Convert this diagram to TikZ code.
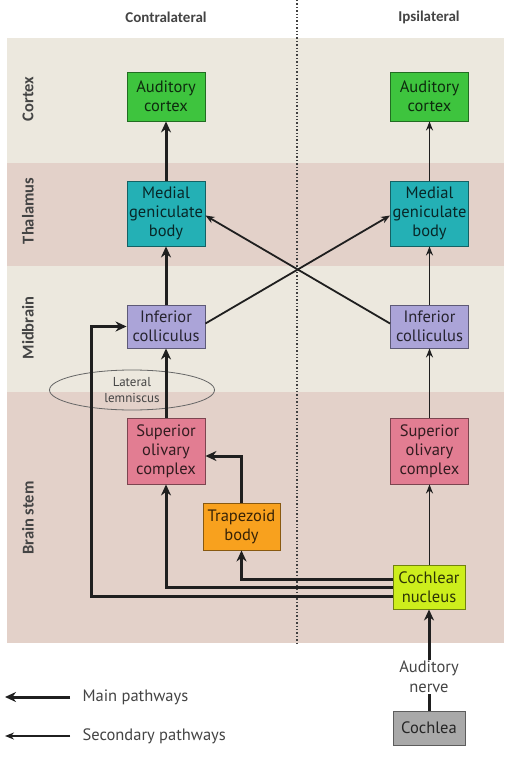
\documentclass[tikz,border=0pt]{standalone}
\usepackage{fontspec}
\setmainfont{PT Sans}
\newfontfamily\hdrfont{Carlito}
\usetikzlibrary{arrows.meta,shapes.geometric}
\definecolor{bandA}{HTML}{ECE8DE}
\definecolor{bandB}{HTML}{E3D1C9}
\definecolor{cgreen}{HTML}{3EC43E}
\definecolor{cteal}{HTML}{24B0B5}
\definecolor{clav}{HTML}{ABA4D8}
\definecolor{cpink}{HTML}{E27D92}
\definecolor{corange}{HTML}{F8A11E}
\definecolor{cyellow}{HTML}{CDEE1C}
\definecolor{cgray}{HTML}{A9A9A9}
\definecolor{txt}{HTML}{444444}
\begin{document}
\begin{tikzpicture}[x=1pt,y=-1pt,
  box/.style={draw=#1!55!black, fill=#1, text=#1!22!black, line width=0.9pt,
    minimum width=78pt, inner sep=0pt, align=center,
    font=\fontsize{16.5}{19}\selectfont},
  hdr/.style={text=txt, font=\hdrfont\fontsize{15}{17}\selectfont\bfseries},
  lab/.style={text=txt, rotate=90, font=\hdrfont\fontsize{16.5}{18}\selectfont\bfseries},
  legtext/.style={text=txt, anchor=west, font=\fontsize{16.5}{19}\selectfont},
  main/.style={line width=3pt, draw=black!88, -{Stealth[length=11pt,width=10pt]}},
  sec/.style={line width=1.8pt, draw=black!88, -{Stealth[length=9pt,width=7pt]}},
  plain/.style={line width=3pt, draw=black!88}
]
\useasboundingbox (0,0) rectangle (507,759);
\fill[white] (0,0) rectangle (507,759);
% bands
\fill[bandA] (7,38) rectangle (504,163);
\fill[bandB] (7,163) rectangle (504,266);
\fill[bandA] (7,266) rectangle (504,392);
\fill[bandB] (7,392) rectangle (504,643);
% divider
\draw[dotted, line width=1.4pt, black!75] (297,0) -- (297,643);
% headers
\node[hdr] (contra) at (166,17) {Contralateral};
\node[hdr] (ipsi) at (429,17) {Ipsilateral};
% region labels
\node[lab] (lcortex) at (28,99) {Cortex};
\node[lab] (lthal) at (28,211) {Thalamus};
\node[lab] (lmid) at (28,328) {Midbrain};
\node[lab] (lbrain) at (28,518) {Brain stem};
% lateral lemniscus
\node[ellipse, draw=black!60, line width=0.8pt, minimum width=165pt, minimum height=40pt,
  inner sep=0pt, align=center, text=txt, font=\fontsize{13}{16}\selectfont] (ll) at (132,390) {Lateral\\lemniscus};
% boxes
\node[box=cgreen, minimum height=49pt] (acL) at (166,96.5) {Auditory\\cortex};
\node[box=cgreen, minimum height=49pt] (acR) at (429.5,96.5) {Auditory\\cortex};
\node[box=cteal, minimum height=65pt] (mgbL) at (166,213.5) {Medial\\geniculate\\body};
\node[box=cteal, minimum height=65pt] (mgbR) at (429.5,213.5) {Medial\\geniculate\\body};
\node[box=clav, minimum height=43pt] (icL) at (166,326.5) {Inferior\\colliculus};
\node[box=clav, minimum height=43pt] (icR) at (429.5,326.5) {Inferior\\colliculus};
\node[box=cpink, minimum height=66pt] (socL) at (166,451) {Superior\\olivary\\complex};
\node[box=cpink, minimum height=66pt] (socR) at (429.5,451) {Superior\\olivary\\complex};
\node[box=corange, minimum width=77pt, minimum height=47pt] (tb) at (241.5,526.5) {Trapezoid\\body};
\node[box=cyellow, minimum width=72pt, minimum height=44pt] (cn) at (429,587) {Cochlear\\nucleus};
\node[box=cgray, minimum width=72pt, minimum height=34pt] (coch) at (429,728) {Cochlea};
\node[text=txt, align=center, inner sep=1pt, font=\fontsize{16.5}{20}\selectfont] (nerve) at (429,677) {Auditory\\nerve};
% contralateral main pathways
\draw[main] (mgbL) -- (acL);
\draw[main] (icL) -- (mgbL);
\draw[main] (socL) -- (icL);
\draw[main] (tb.north) |- ([yshift=-5pt]socL.east);
\draw[main] ([yshift=8pt]cn.west) -| (tb.south);
\draw[main] (cn.west) -| (socL.south);
\draw[main] ([yshift=-9pt]cn.west) -| ([xshift=-35pt]icL.west) -- (icL.west);
% ipsilateral secondary
\draw[sec] (cn.north -| socR) -- (socR);
\draw[sec] (socR) -- (icR);
\draw[sec] (icR) -- (mgbR);
\draw[sec] (mgbR) -- (acR);
% crossings
\draw[sec] ([yshift=3pt]icL.east) -- ([yshift=-2pt]mgbR.west);
\draw[sec] ([yshift=3pt]icR.west) -- ([yshift=-2pt]mgbL.east);
% auditory nerve
\draw[plain] (coch) -- (nerve);
\draw[main] (nerve) -- (cn);
% legend
\coordinate (m1) at (70,697);
\coordinate (m2) at (5,697);
\coordinate (s1) at (70,736);
\coordinate (s2) at (5,736);
\draw[main] (m1) -- (m2);
\draw[sec] (s1) -- (s2);
\node[legtext] (lmain) at (79,697) {Main pathways};
\node[legtext] (lsec) at (79,736) {Secondary pathways};
\end{tikzpicture}
\end{document}
